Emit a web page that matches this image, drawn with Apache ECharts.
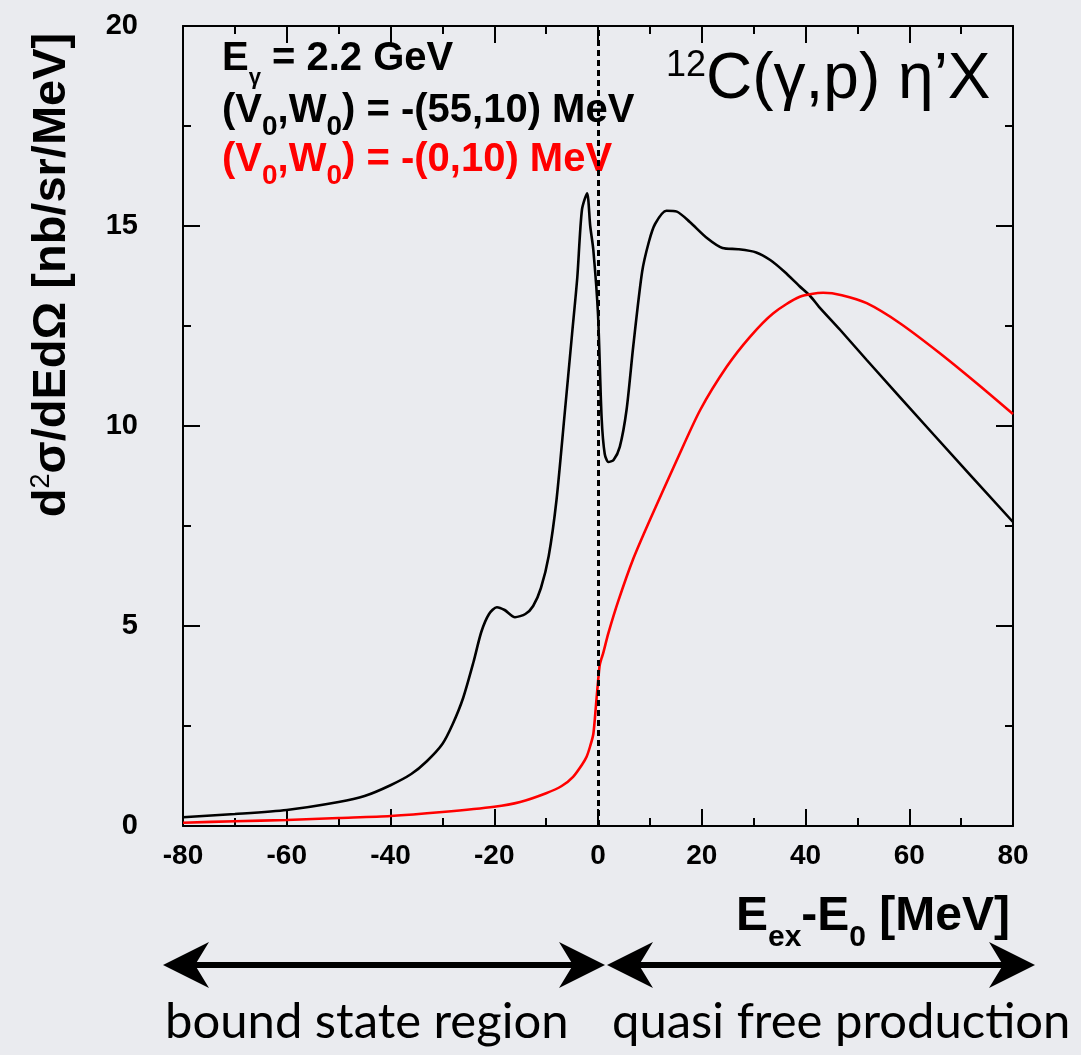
<!DOCTYPE html>
<html lang="en">
<head>
    <meta charset="UTF-8">
    <title>12C(γ,p)η'X</title>
    <style>
        html,body{margin:0;padding:0;background:#eaebef;}
        #main{width:1081px;height:1055px;}
    </style>
</head>
<body>
<div id="main"></div>
<script src="https://cdn.jsdelivr.net/npm/echarts@6/dist/echarts.min.js"></script>
<script>
// x ticks / y ticks
const xTicks=[-80,-60,-40,-20,0,20,40,60,80];
const yTicks=[0,5,10,15,20];

// (V0,W0) = -(55,10) MeV, black curve: [E_ex-E_0, d2sigma]
const curveV55=[
    [-80,0.22],[-70,0.3],[-60,0.4],[-50,0.6],[-45,0.75],[-40,1.02],[-36,1.3],[-33,1.62],
    [-30,2.05],[-28,2.55],[-26,3.2],[-24,4.1],[-22.5,4.85],[-21,5.3],[-19.5,5.47],[-18,5.4],
    [-16,5.22],[-14,5.3],[-12.5,5.5],[-11,5.95],[-9.5,6.75],[-8,8.15],[-6.5,10.2],[-5,12.3],
    [-4,13.7],[-3.1,15.4],[-2.1,15.82],[-1.5,15.0],[-0.9,14.4],[0,12.8],[0.7,10.2],[1.3,9.3],
    [2,9.1],[3,9.15],[4.2,9.48],[5.5,10.4],[6.8,12.0],[8.5,13.85],[9.8,14.6],[11,15.05],
    [13.2,15.38],[15.2,15.36],[17.7,15.1],[21,14.7],[24,14.45],[27,14.42],[30.5,14.34],
    [33.2,14.15],[36,13.85],[38.8,13.5],[40.9,13.25],[42.6,12.98],[46.7,12.4],[51.8,11.65],
    [64.6,9.8],[80,7.6]
];
// (V0,W0) = -(0,10) MeV, red curve
const curveV0=[
    [-80,0.08],[-70,0.12],[-60,0.15],[-50,0.2],[-40,0.25],[-30,0.35],[-20,0.48],[-15,0.6],
    [-10,0.82],[-7,1.0],[-4.8,1.23],[-3,1.55],[-2.2,1.73],[-1.5,2.0],[-0.9,2.3],[-0.4,3.0],
    [0.3,4.0],[0.7,4.2],[1,4.32],[2,4.82],[3.9,5.62],[6.8,6.68],[10,7.65],[15.2,9.15],
    [19.7,10.4],[24.8,11.48],[29.3,12.23],[33.8,12.82],[38.9,13.23],[43.4,13.33],[47,13.27],
    [51.8,13.07],[58.2,12.57],[65.9,11.82],[73,11.07],[80,10.3]
];

const chart=echarts.init(document.getElementById('main'));

const FONT='"Liberation Sans", Arial, sans-serif';
const tickStyle={color:'#000',width:2};

function xAxisDef(pos,labels){
    return {
        type:'value',position:pos,min:xTicks[0],max:xTicks[xTicks.length-1],interval:20,
        axisLine:{show:true,onZero:false,lineStyle:{color:'#000',width:2}},
        axisTick:{show:true,inside:true,length:17,lineStyle:tickStyle},
        minorTick:{show:true,splitNumber:2,length:8,lineStyle:tickStyle},
        axisLabel:{show:labels,color:'#000',fontSize:28,fontWeight:'bold',fontFamily:FONT,margin:16},
        splitLine:{show:false}
    };
}
function yAxisDef(pos,labels){
    return {
        type:'value',position:pos,min:yTicks[0],max:yTicks[yTicks.length-1],interval:5,
        axisLine:{show:true,onZero:false,lineStyle:{color:'#000',width:2}},
        axisTick:{show:true,inside:true,length:17,lineStyle:tickStyle},
        minorTick:{show:true,splitNumber:2,length:8,lineStyle:tickStyle},
        axisLabel:{show:labels,color:'#000',fontSize:29,fontWeight:'bold',fontFamily:FONT,margin:45},
        splitLine:{show:false}
    };
}

// arrow head, dir 1 = pointing left
function head(tipX,y,dir){
    const b=tipX+dir*46, n=tipX+dir*32;
    return {type:'polygon',shape:{points:[[tipX,y],[b,y-23],[n,y],[b,y+23]]},style:{fill:'#000'}};
}

// rich styles: main text at top of a taller line, subscript at its bottom
function mainTok(size,extra,color){
    return {fontSize:size,lineHeight:size+extra,fontWeight:'bold',fontFamily:FONT,fill:color,verticalAlign:'top'};
}
function subTok(size,color){
    return {fontSize:size,lineHeight:size,fontWeight:'bold',fontFamily:FONT,fill:color,verticalAlign:'bottom'};
}

const option={
    backgroundColor:'#eaebef',
    animation:false,
    grid:{left:183,top:26,right:68,bottom:229,containLabel:false,outerBoundsMode:'none'},
    xAxis:[xAxisDef('bottom',true),xAxisDef('top',false)],
    yAxis:[yAxisDef('left',true),yAxisDef('right',false)],
    series:[
        {
            name:'V0=-55',type:'line',data:curveV55,showSymbol:false,smooth:0.25,
            lineStyle:{color:'#000',width:2.6},
            markLine:{
                silent:true,symbol:['none','none'],label:{show:false},
                lineStyle:{color:'#000',width:3,type:[6,4]},
                data:[{xAxis:0}]
            }
        },
        {
            name:'V0=0',type:'line',data:curveV0,showSymbol:false,smooth:0.25,
            lineStyle:{color:'#ff0000',width:2.6}
        }
    ],
    graphic:[
        // y axis title
        {type:'text',x:52,y:275,rotation:Math.PI/2,style:{
            text:'{a|d}{s|2}{a|σ/dEdΩ [nb/sr/MeV]}',align:'center',verticalAlign:'middle',
            rich:{a:{fontSize:47,fontWeight:'bold',fontFamily:FONT,fill:'#000'},
                  s:{fontSize:27,fontFamily:FONT,fill:'#000',verticalAlign:'top'}}
        }},
        // x axis title
        {type:'text',x:1010,y:893,style:{
            text:'{a|E}{s|ex}{a|-E}{s|0}{a| [MeV]}',align:'right',verticalAlign:'top',
            rich:{a:mainTok(48,12,'#000'),s:subTok(30,'#000')}
        }},
        // annotations
        {type:'text',x:222,y:39,style:{
            text:'{a|E}{g|γ}{a| = 2.2 GeV}',verticalAlign:'top',
            rich:{a:mainTok(40,10,'#000'),g:subTok(22,'#000')}
        }},
        {type:'text',x:222,y:91,style:{
            text:'{a|(V}{s|0}{a|,W}{s|0}{a|) = -(55,10) MeV}',verticalAlign:'top',
            rich:{a:mainTok(40,10,'#000'),s:subTok(28,'#000')}
        }},
        {type:'text',x:222,y:140,style:{
            text:'{a|(V}{s|0}{a|,W}{s|0}{a|) = -(0,10) MeV}',verticalAlign:'top',
            rich:{a:mainTok(40,10,'#ff0000'),s:subTok(28,'#ff0000')}
        }},
        {type:'text',x:666,y:80,style:{
            text:'{s|12}{a|C(γ,p) η’X}',verticalAlign:'middle',
            rich:{a:{fontSize:64,fontFamily:FONT,fill:'#000'},
                  s:{fontSize:36,fontFamily:FONT,fill:'#000',verticalAlign:'top'}}
        }},
        // region arrows
        {type:'line',shape:{x1:195,y1:965,x2:575,y2:965},style:{stroke:'#000',lineWidth:6}},
        head(163,965,1),head(605,965,-1),
        {type:'line',shape:{x1:637,y1:965,x2:1003,y2:965},style:{stroke:'#000',lineWidth:6}},
        head(607,965,1),head(1035,965,-1),
        {type:'text',x:165,y:1022,style:{text:'bound state region',fontSize:49,fontFamily:'Lato, "Open Sans", sans-serif',fill:'#000',verticalAlign:'middle'}},
        {type:'text',x:612,y:1022,style:{text:'quasi free production',fontSize:49,fontFamily:'Lato, "Open Sans", sans-serif',fill:'#000',verticalAlign:'middle'}}
    ]
};

chart.setOption(option);
</script>
</body>
</html>
